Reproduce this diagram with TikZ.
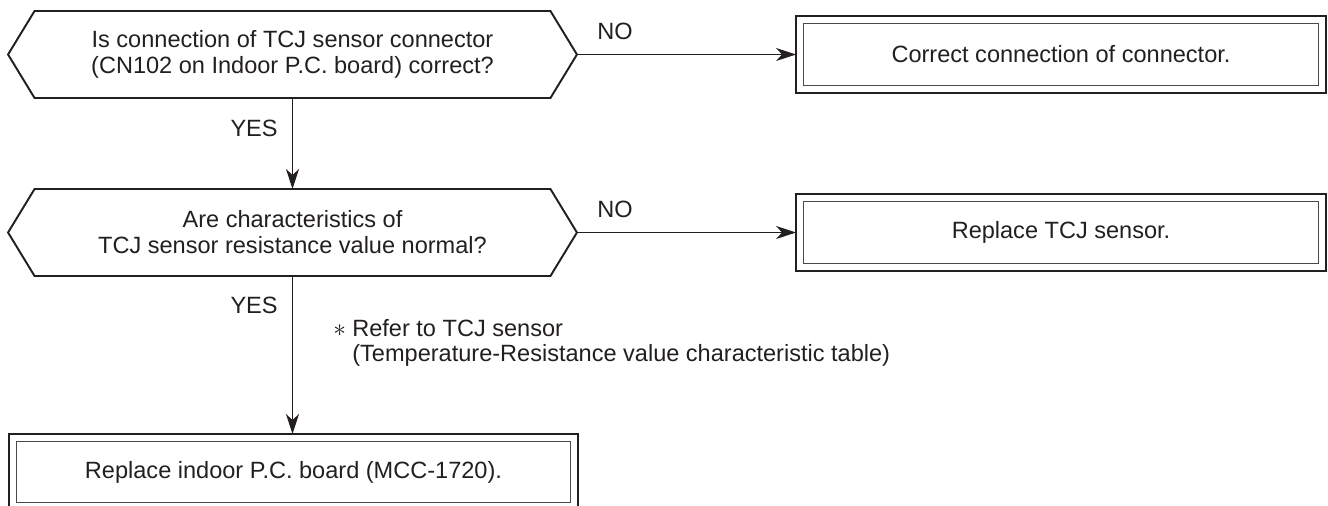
\documentclass[tikz,border=0pt]{standalone}
\usepackage{fontspec}
\setmainfont{Liberation Sans}
\usepackage{xcolor}
\usetikzlibrary{arrows.meta,calc,positioning}
\definecolor{Ink}{RGB}{35,31,32}
\definecolor{InkSoft}{RGB}{75,72,72}
\tikzset{
  fcflow/.style={-{Stealth[length=0.4cm,width=0.26cm,inset=0.12cm]}, line width=0.6pt, draw=Ink},
  fctext/.style={font=\fontsize{13.4}{14.8}\selectfont, text=Ink, align=center, inner sep=0pt, outer sep=0pt},
  fcask/.style={fctext, minimum width=11.38cm, minimum height=1.74cm},
  fcdo/.style={fctext, draw=Ink, line width=1.4pt, minimum width=10.6cm, minimum height=1.54cm},
  fcinner/.style={line width=0.7pt, draw=InkSoft},
  fchex/.style={line width=1.1pt, draw=Ink, line join=miter},
  fclab/.style={font=\fontsize{13.4}{14.8}\selectfont, text=Ink, inner sep=0pt}
}
\newcommand{\FCHex}[1]{%
  \draw[fchex] (#1.west) -- ([xshift=0.53cm]#1.north west) -- ([xshift=-0.53cm]#1.north east)
    -- (#1.east) -- ([xshift=-0.53cm]#1.south east) -- ([xshift=0.53cm]#1.south west) -- cycle;
}
\newcommand{\FCInner}[1]{%
  \draw[fcinner] ([shift={(0.15cm,0.15cm)}]#1.south west) rectangle ([shift={(-0.15cm,-0.15cm)}]#1.north east);
}

\begin{document}
\begin{tikzpicture}[x=0.02cm,y=-0.02cm]
  \useasboundingbox (0,0) rectangle (1328,505);
  \node[fcask] (tcjconn) at (292.5,54.5) {Is connection of TCJ sensor connector\\(CN102 on Indoor P.C. board) correct?};
  \node[fcask] (tcjres) at (292.5,232.5) {Are characteristics of\\TCJ sensor resistance value normal?};
  \FCHex{tcjconn}\FCHex{tcjres}
  \node[fcdo] (fixconn) at (1061,54.5) {Correct connection of connector.};
  \node[fcdo] (newsens) at (1061,232.5) {Replace TCJ sensor.};
  \node[fcdo, minimum width=11.38cm, minimum height=1.52cm] (newpcb) at (293.5,472) {Replace indoor P.C. board (MCC-1720).};
  \foreach \b in {fixconn,newsens,newpcb}{\FCInner{\b}}
  \draw[fcflow] (tcjconn.east) -- (fixconn.west);
  \draw[fcflow] (tcjconn.south) -- (tcjres.north);
  \draw[fcflow] (tcjres.east) -- (newsens.west);
  \draw[fcflow] (tcjres.south) -- (tcjres.south |- newpcb.north);
  \node[fclab, anchor=base west] (no1) at (597,39) {NO};
  \node[fclab, anchor=base west] (no2) at (597,217) {NO};
  \node[fclab, anchor=base east] (yes1) at (278,136) {YES};
  \node[fclab, anchor=base east] (yes2) at (278,313) {YES};
  \node[fclab, anchor=base west] (ast) at (333,336.5) {$\ast$};
  \node[fclab, anchor=base west] (note1) at (352,336.5) {Refer to TCJ sensor};
  \node[fclab, anchor=base west] (note2) at (352,361.5) {(Temperature-Resistance value characteristic table)};
\end{tikzpicture}
\end{document}
